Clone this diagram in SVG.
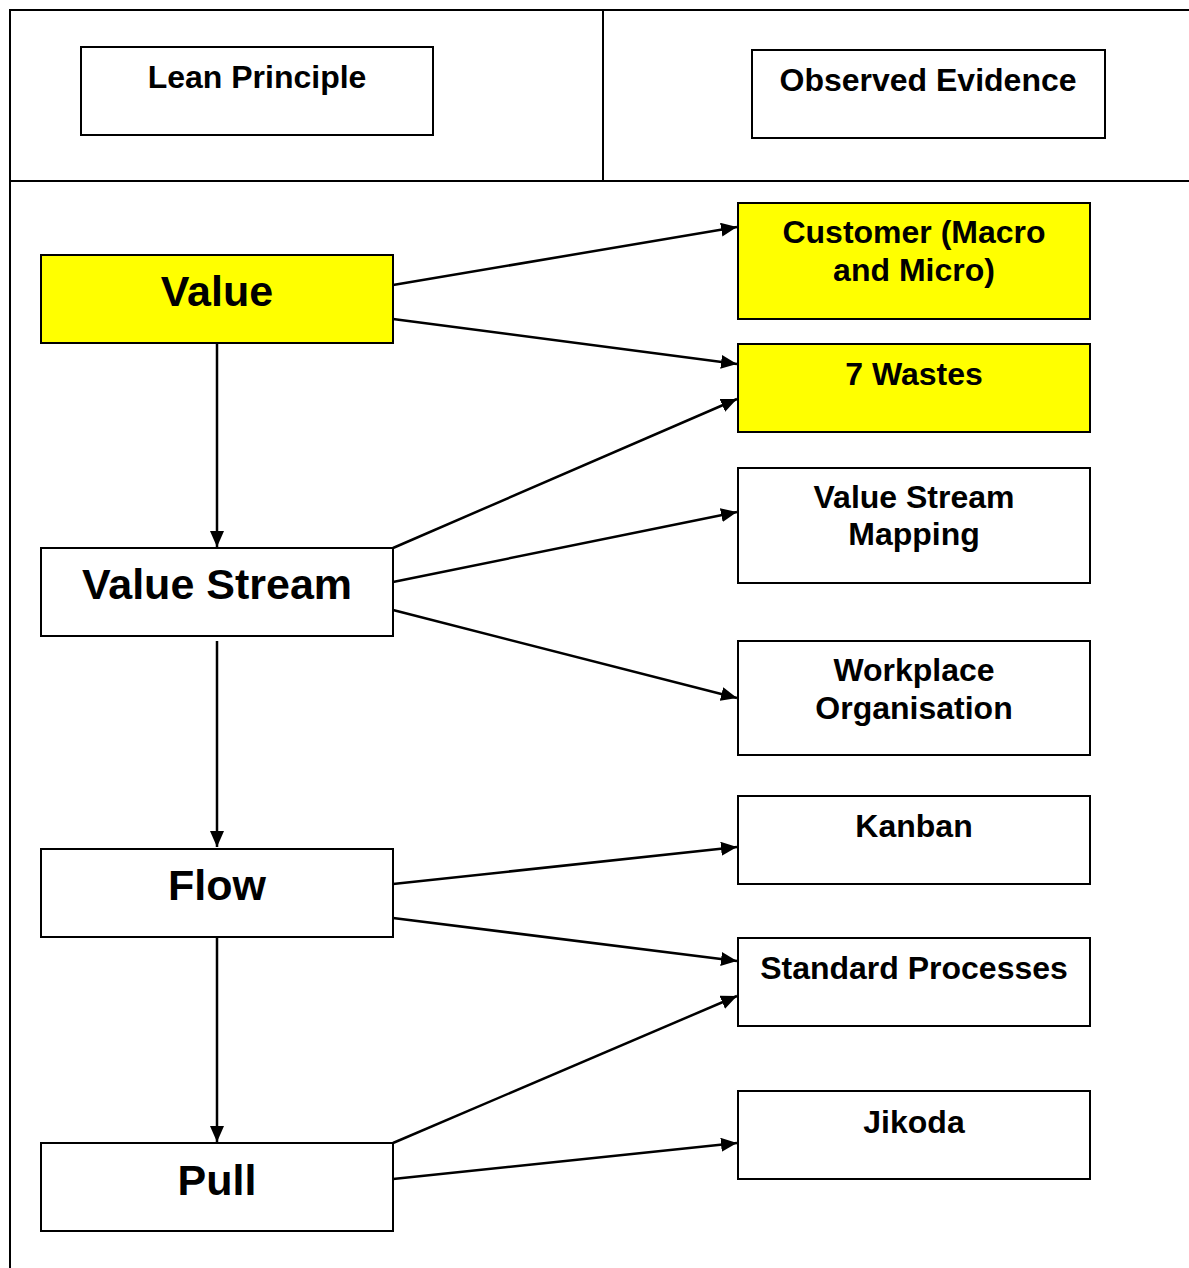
<svg xmlns="http://www.w3.org/2000/svg" width="1189" height="1268" viewBox="0 0 1189 1268">
  <defs>
    <marker id="arrow" markerUnits="userSpaceOnUse" markerWidth="17" markerHeight="15" refX="16" refY="7" orient="auto">
      <path d="M0,0 L16,7 L0,14 z" fill="#000"/>
    </marker>
    <style>
      .box { fill: #fff; stroke: #000; stroke-width: 2; }
      .hl { fill: #ffff00; stroke: #000; stroke-width: 2; }
      .grid { fill: none; stroke: #000; stroke-width: 2; }
      .t { font-family: "Liberation Sans", Arial, sans-serif; font-weight: bold; fill: #000; text-anchor: middle; }
      .sm { font-size: 32px; }
      .lg { font-size: 43px; }
      .conn line { stroke: #000; stroke-width: 2.5; marker-end: url(#arrow); }
    </style>
  </defs>
  <rect width="1189" height="1268" fill="#fff"/>

  <!-- table frame -->
  <g id="table">
    <path class="grid" d="M1189,10 H10 V1268 M10,181 H1189 M603,10 V181"/>
  </g>

  <!-- column headers -->
  <g id="hdr-principle">
    <rect class="box" x="81" y="47" width="352" height="88"/>
    <text class="t sm" x="257" y="88">Lean Principle</text>
  </g>
  <g id="hdr-evidence">
    <rect class="box" x="752" y="50" width="353" height="88"/>
    <text class="t sm" x="928" y="91">Observed Evidence</text>
  </g>

  <!-- principles -->
  <g id="value">
    <rect class="hl" x="41" y="255" width="352" height="88"/>
    <text class="t lg" x="217" y="306">Value</text>
  </g>
  <g id="value-stream">
    <rect class="box" x="41" y="548" width="352" height="88"/>
    <text class="t lg" x="217" y="599">Value Stream</text>
  </g>
  <g id="flow">
    <rect class="box" x="41" y="849" width="352" height="88"/>
    <text class="t lg" x="217" y="900">Flow</text>
  </g>
  <g id="pull">
    <rect class="box" x="41" y="1143" width="352" height="88"/>
    <text class="t lg" x="217" y="1195">Pull</text>
  </g>

  <!-- evidence -->
  <g id="customer">
    <rect class="hl" x="738" y="203" width="352" height="116"/>
    <text class="t sm" x="914" y="243">Customer (Macro</text>
    <text class="t sm" x="914" y="281">and Micro)</text>
  </g>
  <g id="wastes">
    <rect class="hl" x="738" y="344" width="352" height="88"/>
    <text class="t sm" x="914" y="385">7 Wastes</text>
  </g>
  <g id="vsm">
    <rect class="box" x="738" y="468" width="352" height="115"/>
    <text class="t sm" x="914" y="508">Value Stream</text>
    <text class="t sm" x="914" y="545">Mapping</text>
  </g>
  <g id="workplace">
    <rect class="box" x="738" y="641" width="352" height="114"/>
    <text class="t sm" x="914" y="681">Workplace</text>
    <text class="t sm" x="914" y="719">Organisation</text>
  </g>
  <g id="kanban">
    <rect class="box" x="738" y="796" width="352" height="88"/>
    <text class="t sm" x="914" y="837">Kanban</text>
  </g>
  <g id="standard">
    <rect class="box" x="738" y="938" width="352" height="88"/>
    <text class="t sm" x="914" y="979">Standard Processes</text>
  </g>
  <g id="jikoda">
    <rect class="box" x="738" y="1091" width="352" height="88"/>
    <text class="t sm" x="914" y="1133">Jikoda</text>
  </g>

  <!-- connectors -->
  <g id="connectors" class="conn">
    <line x1="217" y1="343" x2="217" y2="547"/>
    <line x1="217" y1="641" x2="217" y2="847"/>
    <line x1="217" y1="937" x2="217" y2="1142"/>
    <line x1="393" y1="285" x2="737" y2="227"/>
    <line x1="393" y1="319" x2="737" y2="364"/>
    <line x1="393" y1="548" x2="737" y2="399"/>
    <line x1="393" y1="582" x2="737" y2="512"/>
    <line x1="393" y1="610" x2="737" y2="698"/>
    <line x1="393" y1="884" x2="737" y2="847"/>
    <line x1="393" y1="918" x2="737" y2="961"/>
    <line x1="393" y1="1143" x2="737" y2="996"/>
    <line x1="393" y1="1179" x2="737" y2="1143"/>
  </g>
</svg>
